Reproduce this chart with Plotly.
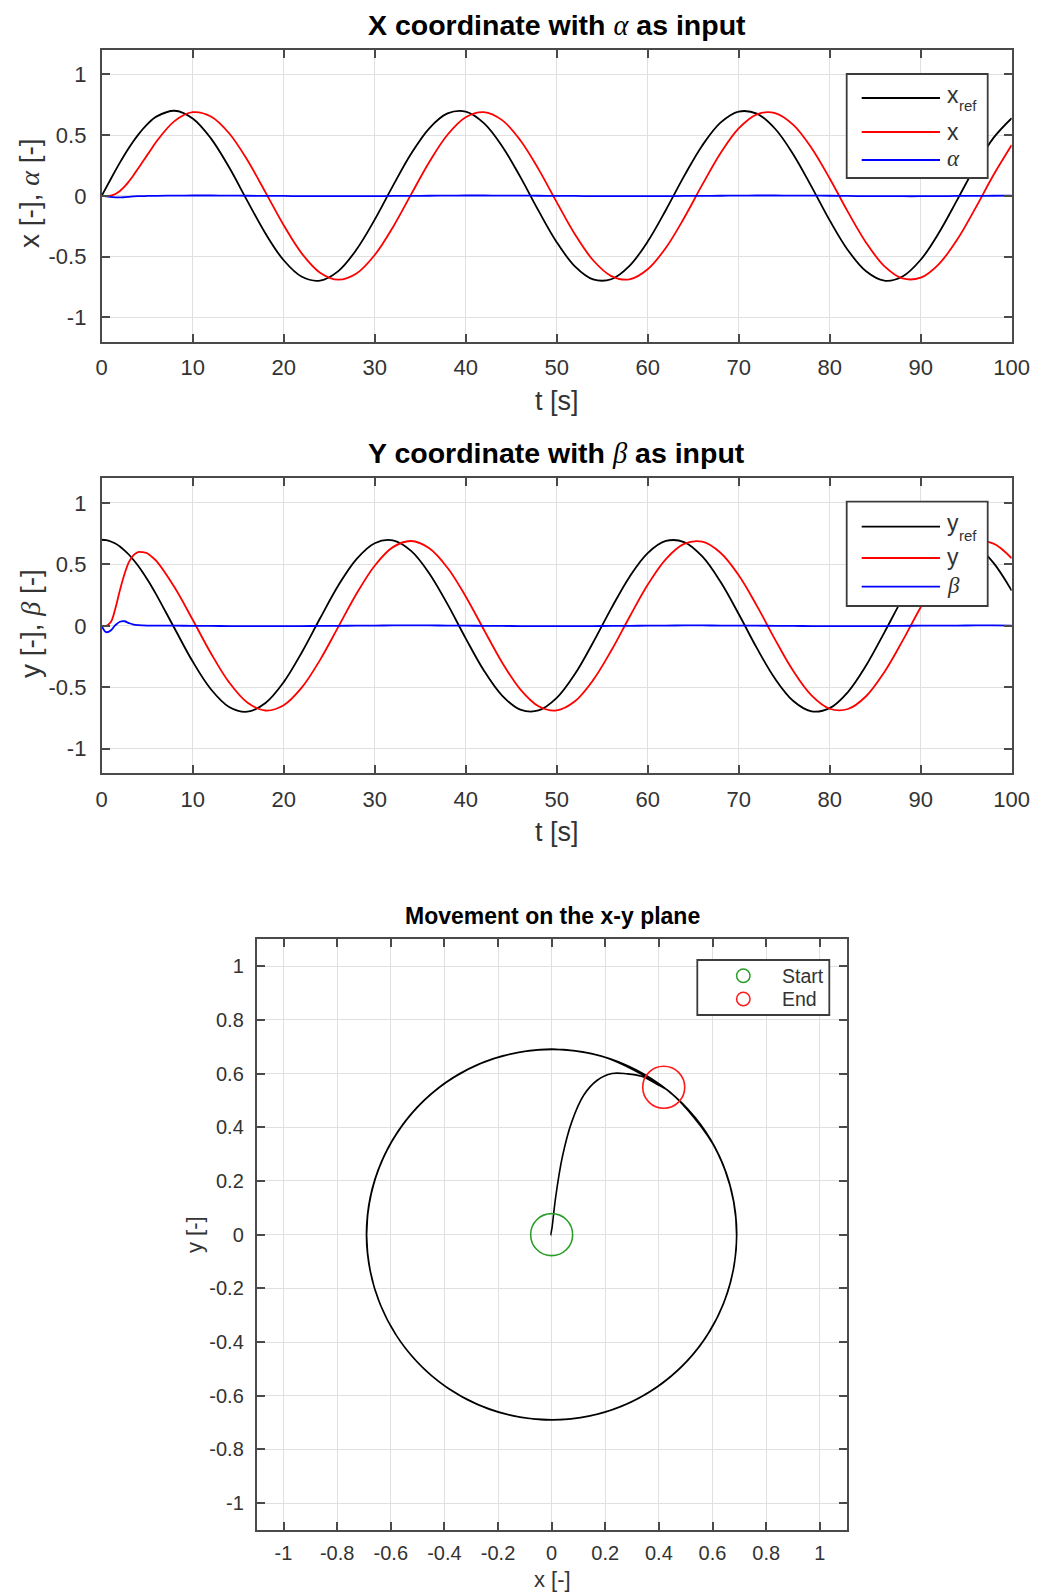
import plotly.graph_objects as go

# ---------------------------------------------------------------------------
# Simulation output (ball position vs reference, plate tilt inputs)
# ---------------------------------------------------------------------------
t = [0, 0.5, 1, 1.5, 2, 2.5, 3, 3.5, 4, 4.5, 5, 5.5, 6,
     8, 10, 12, 14, 16, 18, 20, 22, 24, 26, 28, 30, 32, 34, 36, 38, 40,
     42, 44, 46, 48, 50, 52, 54, 56, 58, 60, 62, 64, 66, 68, 70, 72, 74,
     76, 78, 80, 82, 84, 86, 88, 90, 92, 94, 96, 98, 100]

x_ref = [0.000, 0.070, 0.139, 0.207, 0.273, 0.336, 0.395, 0.451, 0.502, 0.548, 0.589, 0.624, 0.652,
         0.700, 0.637, 0.473, 0.235, -0.041, -0.310, -0.530, -0.666, -0.697, -0.619, -0.442, -0.196,
         0.082, 0.346, 0.556, 0.678, 0.693, 0.598, 0.409, 0.156, -0.122, -0.381, -0.580, -0.687,
         -0.686, -0.576, -0.376, -0.116, 0.162, 0.415, 0.602, 0.693, 0.676, 0.552, 0.341, 0.076,
         -0.202, -0.447, -0.621, -0.698, -0.664, -0.526, -0.304, -0.035, 0.240, 0.477, 0.639]

x_pos = [0.000, -0.002, 0.002, 0.015, 0.040, 0.075, 0.120, 0.170, 0.225, 0.280, 0.335, 0.390, 0.445,
         0.615, 0.688, 0.653, 0.515, 0.295, 0.029, -0.242, -0.475, -0.632, -0.690, -0.639, -0.487,
         -0.258, 0.012, 0.279, 0.503, 0.647, 0.689, 0.623, 0.458, 0.220, -0.052, -0.316, -0.530,
         -0.660, -0.687, -0.604, -0.427, -0.182, 0.092, 0.351, 0.555, 0.671, 0.681, 0.584, 0.394,
         0.143, -0.132, -0.385, -0.578, -0.679, -0.673, -0.561, -0.361, -0.103, 0.171, 0.418]

alpha = [0.000, -0.004, -0.009, -0.012, -0.013, -0.011, -0.008, -0.005, -0.003, -0.002, -0.001, 0.000, 0.000,
         0.002, 0.003, 0.003, 0.002, 0.001, 0.000, -0.001, -0.002, -0.003, -0.003, -0.003, -0.002,
         -0.001, 0.000, 0.001, 0.002, 0.003, 0.003, 0.002, 0.002, 0.001, 0.000, -0.001, -0.002,
         -0.003, -0.003, -0.002, -0.002, -0.001, 0.000, 0.001, 0.002, 0.003, 0.003, 0.002, 0.002,
         0.001, -0.001, -0.002, -0.002, -0.003, -0.003, -0.002, -0.001, 0.000, 0.001, 0.002]

y_ref = [0.700, 0.697, 0.686, 0.669, 0.645, 0.614, 0.578, 0.535, 0.488, 0.435, 0.378, 0.318, 0.254,
         -0.020, -0.291, -0.516, -0.660, -0.699, -0.628, -0.458, -0.215, 0.061, 0.328, 0.543, 0.672,
         0.695, 0.609, 0.426, 0.176, -0.102, -0.364, -0.568, -0.682, -0.689, -0.587, -0.393, -0.136,
         0.142, 0.398, 0.591, 0.690, 0.681, 0.564, 0.358, 0.096, -0.182, -0.431, -0.612, -0.696,
         -0.670, -0.539, -0.323, -0.055, 0.221, 0.462, 0.630, 0.699, 0.657, 0.512, 0.286]

y_pos = [0.000, 0.000, 0.030, 0.140, 0.290, 0.420, 0.520, 0.575, 0.600, 0.599, 0.590, 0.562, 0.528,
         0.313, 0.049, -0.223, -0.460, -0.624, -0.689, -0.646, -0.501, -0.277, -0.009, 0.261, 0.489,
         0.640, 0.690, 0.631, 0.472, 0.239, -0.032, -0.298, -0.517, -0.654, -0.688, -0.614, -0.442,
         -0.201, 0.072, 0.334, 0.543, 0.666, 0.684, 0.594, 0.411, 0.162, -0.112, -0.368, -0.566,
         -0.675, -0.677, -0.573, -0.377, -0.123, 0.151, 0.401, 0.588, 0.682, 0.669, 0.549]

beta = [0.000, -0.052, -0.038, 0.005, 0.033, 0.037, 0.022, 0.010, 0.005, 0.003, 0.002, 0.002, 0.002,
        0.001, 0.000, -0.001, -0.002, -0.002, -0.003, -0.003, -0.002, -0.001, 0.000, 0.001, 0.002,
        0.003, 0.003, 0.003, 0.002, 0.001, 0.000, -0.001, -0.002, -0.003, -0.003, -0.002, -0.002,
        -0.001, 0.000, 0.001, 0.002, 0.003, 0.003, 0.002, 0.002, 0.001, 0.000, -0.001, -0.002,
        -0.003, -0.003, -0.002, -0.002, 0.000, 0.001, 0.002, 0.002, 0.003, 0.003, 0.002]

T_TICKS = [0, 10, 20, 30, 40, 50, 60, 70, 80, 90, 100]
T_LABELS = ["0", "10", "20", "30", "40", "50", "60", "70", "80", "90", "100"]
V_TICKS = [-1, -0.5, 0, 0.5, 1]
V_LABELS = ["-1", "-0.5", "0", "0.5", "1"]
XY_TICKS = [-1, -0.8, -0.6, -0.4, -0.2, 0, 0.2, 0.4, 0.6, 0.8, 1]
XY_LABELS = ["-1", "-0.8", "-0.6", "-0.4", "-0.2", "0", "0.2", "0.4", "0.6", "0.8", "1"]

# ---------------------------------------------------------------------------
# Styling
# ---------------------------------------------------------------------------
W, H = 1041, 1596
FONT = "Liberation Sans, Arial, Helvetica, sans-serif"
SERIF = "Liberation Serif"
FRAME = "#4a4a4a"
GRID = "#e0e0e0"
TICK = "#333333"
GREEN = "#2a9d2a"
RED = "#ff1a1a"


def px(xp):
    return xp / W


def py(yp):
    return 1 - yp / H


def greek(ch, size):
    return ('<span style="font-family:%s;font-style:italic;font-weight:normal;font-size:%gpx">%s</span>'
            % (SERIF, size, ch))


def axis(tickvals, ticktext, rng, dom, size, standoff, anchor):
    return dict(range=rng, domain=dom, anchor=anchor, tickmode="array",
                tickvals=tickvals, ticktext=ticktext, ticks="inside", ticklen=8,
                tickwidth=1.5, tickcolor=FRAME, showline=True, linecolor=FRAME,
                linewidth=1.8, mirror="ticks", showgrid=True, gridcolor=GRID,
                gridwidth=1, zeroline=False, ticklabelstandoff=standoff,
                tickfont=dict(family=FONT, size=size, color=TICK), fixedrange=True)


fig = go.Figure()

LW = 1.8
fig.add_trace(go.Scatter(x=t, y=x_ref, mode="lines", line=dict(color="black", width=LW, shape="spline"),
                         xaxis="x", yaxis="y", showlegend=False))
fig.add_trace(go.Scatter(x=t, y=x_pos, mode="lines", line=dict(color="red", width=LW, shape="spline"),
                         xaxis="x", yaxis="y", showlegend=False))
fig.add_trace(go.Scatter(x=t, y=alpha, mode="lines", line=dict(color="blue", width=LW, shape="spline"),
                         xaxis="x", yaxis="y", showlegend=False))

fig.add_trace(go.Scatter(x=t, y=y_ref, mode="lines", line=dict(color="black", width=LW, shape="spline"),
                         xaxis="x2", yaxis="y2", showlegend=False))
fig.add_trace(go.Scatter(x=t, y=y_pos, mode="lines", line=dict(color="red", width=LW, shape="spline"),
                         xaxis="x2", yaxis="y2", showlegend=False))
fig.add_trace(go.Scatter(x=t, y=beta, mode="lines", line=dict(color="blue", width=LW, shape="spline"),
                         xaxis="x2", yaxis="y2", showlegend=False))

# path on the plane with start / end markers
fig.add_trace(go.Scatter(x=x_pos, y=y_pos, mode="lines", line=dict(color="black", width=1.6, shape="spline"),
                         xaxis="x3", yaxis="y3", showlegend=False))
fig.add_trace(go.Scatter(x=[x_pos[0]], y=[y_pos[0]], mode="markers",
                         marker=dict(symbol="circle-open", size=42, color=GREEN, line=dict(width=1.6, color=GREEN)),
                         xaxis="x3", yaxis="y3", showlegend=False))
fig.add_trace(go.Scatter(x=[x_pos[-1]], y=[y_pos[-1]], mode="markers",
                         marker=dict(symbol="circle-open", size=42, color=RED, line=dict(width=1.6, color=RED)),
                         xaxis="x3", yaxis="y3", showlegend=False))

dom_x12 = [px(101.7), px(1011.7)]
fig.update_layout(
    width=W, height=H, autosize=False, margin=dict(l=0, r=0, t=0, b=0, autoexpand=False),
    paper_bgcolor="white", plot_bgcolor="white",
    xaxis=axis(T_TICKS, T_LABELS, [0, 100], dom_x12, 22, 5, "y"),
    yaxis=axis(V_TICKS, V_LABELS, [-1.2, 1.2], [py(341.7), py(50)], 22, 9, "x"),
    xaxis2=axis(T_TICKS, T_LABELS, [0, 100], dom_x12, 22, 5, "y2"),
    yaxis2=axis(V_TICKS, V_LABELS, [-1.2, 1.2], [py(773.3), py(478.3)], 22, 9, "x2"),
    xaxis3=axis(XY_TICKS, XY_LABELS, [-1.1, 1.1], [px(256.7), px(846.6)], 20, 4, "y3"),
    yaxis3=axis(XY_TICKS, XY_LABELS, [-1.1, 1.1], [py(1530), py(939.3)], 20, 7, "x3"),
)

ann = []
shapes = []


def text(s, xp, yp, size, color=TICK, bold=False, angle=0, xanchor="center"):
    ann.append(dict(text=s, x=px(xp), y=py(yp), xref="paper", yref="paper",
                    xanchor=xanchor, yanchor="middle", showarrow=False, textangle=angle,
                    font=dict(family=FONT, size=size, color=color,
                              weight="bold" if bold else "normal")))


# titles and axis labels
text("X coordinate with " + greek("α", 28.5) + " as input", 556.7, 25, 28.5, "black", bold=True)
text("t [s]", 556.7, 401, 27)
text("x [-], " + greek("α", 28) + " [-]", 30, 193, 28, angle=-90)

text("Y coordinate with " + greek("β", 28.5) + " as input", 556.7, 453, 28.5, "black", bold=True)
text("t [s]", 556.7, 832, 27)
text("y [-], " + greek("β", 28) + " [-]", 30, 624, 28, angle=-90)

text("Movement on the x-y plane", 552.6, 916, 23, "black", bold=True)
text("x [-]", 552.6, 1579, 22)
text("y [-]", 194, 1235, 22, angle=-90)


def legend_box(x0, y0, x1, y1):
    shapes.append(dict(type="rect", xref="paper", yref="paper", x0=px(x0), x1=px(x1),
                       y0=py(y1), y1=py(y0), fillcolor="white",
                       line=dict(color="#3c3c3c", width=1.8), layer="above"))


def legend_line(yp, color):
    shapes.append(dict(type="line", xref="paper", yref="paper", x0=px(861.7), x1=px(940),
                       y0=py(yp), y1=py(yp), line=dict(color=color, width=LW), layer="above"))


# legend of the x plot
legend_box(846.7, 74, 987.7, 178)
for yp, c in [(98, "black"), (132, "red"), (160, "blue")]:
    legend_line(yp, c)
text("x", 945, 94.5, 23, xanchor="left")
text("ref", 957, 106, 15, xanchor="left")
text("x", 945, 131.5, 23, xanchor="left")
text(greek("α", 23), 945, 158, 23, xanchor="left")

# legend of the y plot
legend_box(846.7, 501.7, 987.7, 606)
for yp, c in [(526.7, "black"), (558, "red"), (586.7, "blue")]:
    legend_line(yp, c)
text("y", 945, 523.5, 23, xanchor="left")
text("ref", 957, 535, 15, xanchor="left")
text("y", 945, 557, 23, xanchor="left")
text(greek("β", 23), 945, 585, 23, xanchor="left")

# legend of the plane plot
legend_box(697.3, 960, 829.3, 1015)
for yp, c in [(975.7, GREEN), (999, RED)]:
    shapes.append(dict(type="circle", xref="paper", yref="paper",
                       x0=px(743.3 - 6.7), x1=px(743.3 + 6.7), y0=py(yp + 6.7), y1=py(yp - 6.7),
                       line=dict(color=c, width=1.5), layer="above"))
text("Start", 780, 975.7, 19.5, xanchor="left")
text("End", 780, 999, 19.5, xanchor="left")

fig.update_layout(annotations=ann, shapes=shapes)

# keep the page exactly the size of the figure (no body margin, no scrollbars)
page_fix = ("document.documentElement.style.margin='0';document.body.style.margin='0';"
            "document.documentElement.style.overflow='hidden';document.body.style.overflow='hidden';")
fig.write_html("out.html", config={"responsive": False}, post_script=page_fix)
